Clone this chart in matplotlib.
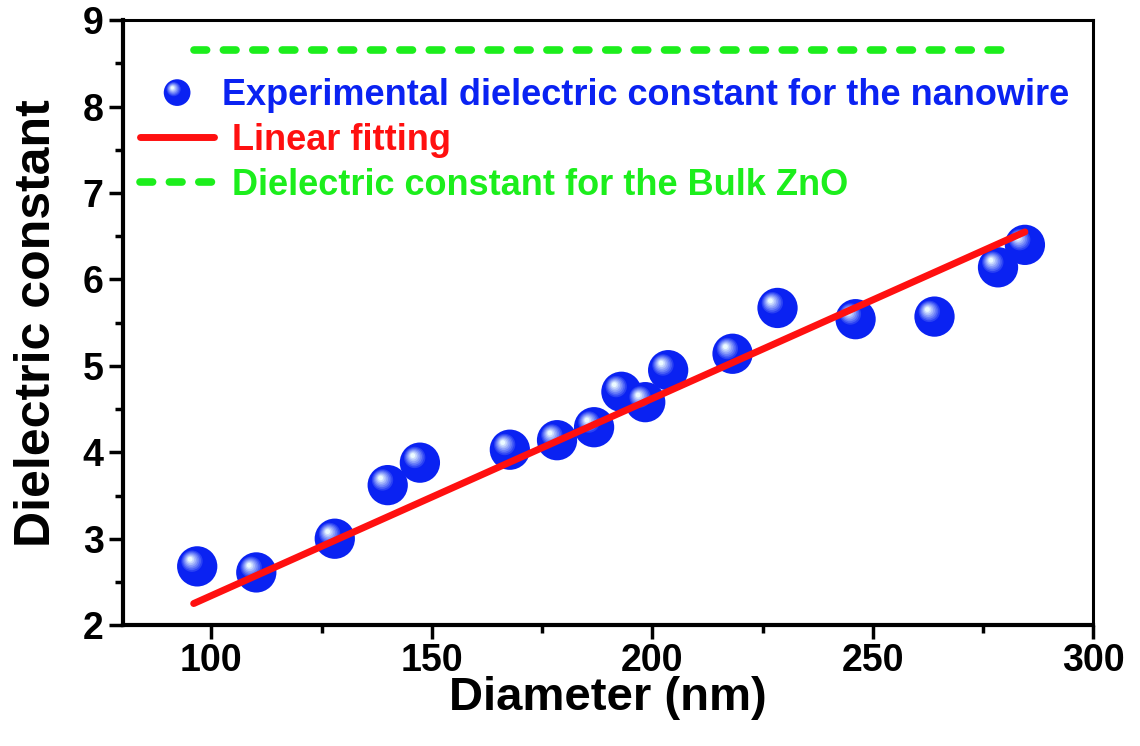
import numpy as np
import matplotlib
matplotlib.use("Agg")
import matplotlib.pyplot as plt
from matplotlib.legend_handler import HandlerBase
from matplotlib.lines import Line2D
from matplotlib.patches import Circle
from matplotlib.transforms import offset_copy
from matplotlib.colors import to_rgb

plt.rcParams['font.family'] = ['Liberation Sans', 'DejaVu Sans']
plt.rcParams['font.weight'] = 'bold'

# measured dielectric constant vs nanowire diameter
diameter = [96.8, 110.2, 128.0, 140.0, 147.3, 167.7, 178.4, 186.8, 193.0,
            198.4, 203.6, 218.2, 228.4, 246.1, 264.0, 278.4, 284.5]
eps_wire = [2.68, 2.61, 3.00, 3.62, 3.88, 4.03, 4.14, 4.29, 4.70,
            4.58, 4.95, 5.14, 5.67, 5.54, 5.57, 6.14, 6.40]

# linear fit end points
fit_x = [96.0, 284.5]
fit_y = [2.25, 6.55]

# bulk ZnO reference
bulk_x = [96.0, 282.0]
bulk_y = [8.66, 8.66]

BLUE = '#0a22f2'
RED = '#ff1010'
GREEN = '#1cee1c'
DASH = (1.65, 2.2)


def shade_layers(n=8):
    """colours and radius fractions for a shaded ball"""
    base = np.array(to_rgb(BLUE))
    light = np.array([0.92, 0.98, 1.0])
    out = []
    for i in range(n):
        t = i / (n - 1)
        frac = 0.6 * (1 - t) + 0.12 * t
        col = base * (1 - t) + light * t
        out.append((frac, tuple(col)))
    return out


def draw_spheres(ax, x, y, size_pt):
    fig = ax.figure
    ax.scatter(x, y, s=size_pt ** 2, color=BLUE, edgecolors='none', zorder=3)
    r = size_pt / 2
    for frac, col in shade_layers():
        d = 0.38 * r * (1 - frac * 0.6)
        tr = offset_copy(ax.transData, fig=fig, x=-d, y=d, units='points')
        ax.scatter(x, y, s=(2 * r * frac) ** 2, color=col, edgecolors='none',
                   transform=tr, zorder=3)


class SphereHandler(HandlerBase):
    def create_artists(self, legend, orig_handle, xdescent, ydescent,
                       width, height, fontsize, trans):
        cx = width / 2 - xdescent
        cy = height / 2 - ydescent
        r = 0.37 * fontsize
        arts = [Circle((cx, cy), r, color=BLUE, lw=0, transform=trans)]
        for frac, col in shade_layers():
            d = 0.38 * r * (1 - frac * 0.6)
            arts.append(Circle((cx - d, cy + d), r * frac, color=col, lw=0,
                               transform=trans))
        return arts


fig = plt.figure(figsize=(11.4, 7.46), dpi=100)
ax = fig.add_axes([0.108, 0.162, 0.851, 0.811])

ax.plot(bulk_x, bulk_y, color=GREEN, lw=5.5, dashes=DASH,
        dash_capstyle='round', zorder=2)
ax.plot(fit_x, fit_y, color=RED, lw=5, solid_capstyle='round', zorder=4)
draw_spheres(ax, diameter, eps_wire, 29)

ax.set_xlim(80, 300)
ax.set_ylim(2, 9)
ax.set_xticks([100, 150, 200, 250, 300])
ax.set_xticks([125, 175, 225, 275], minor=True)
ax.set_yticks(range(2, 10))
ax.set_yticks(np.arange(2.5, 9, 1.0), minor=True)
ax.tick_params(which='major', direction='out', length=10, width=2.5,
               labelsize=27, pad=4)
ax.tick_params(axis='x', which='major', pad=3)
ax.tick_params(which='minor', direction='out', length=6, width=2.5)
for side in ['left', 'bottom']:
    ax.spines[side].set_linewidth(3)
for side in ['top', 'right']:
    ax.spines[side].set_linewidth(2.2)

ax.set_xlabel('Diameter (nm)', fontsize=34, fontweight='bold', labelpad=-2)
ax.set_ylabel('Dielectric constant', fontsize=36, fontweight='bold', labelpad=16)

legend_kw = dict(loc='upper left', frameon=False, handlelength=2.05,
                 borderpad=0, borderaxespad=0,
                 prop={'weight': 'bold', 'size': 26})

# sphere entry sits closer to its handle than the line entries
leg1 = ax.legend([object()], ['Experimental dielectric constant for the nanowire'],
                 handler_map={object: SphereHandler()},
                 bbox_to_anchor=(0.0175, 0.904), handletextpad=0.22,
                 labelcolor=[BLUE], **legend_kw)
ax.add_artist(leg1)

line_handles = [Line2D([], [], color=RED, lw=5, solid_capstyle='round'),
                Line2D([], [], color=GREEN, lw=5.5, dashes=DASH,
                       dash_capstyle='round')]
ax.legend(line_handles, ['Linear fitting', 'Dielectric constant for the Bulk ZnO'],
          bbox_to_anchor=(0.0175, 0.830), handletextpad=0.5,
          labelspacing=0.28, labelcolor=[RED, GREEN], **legend_kw)

fig.savefig('out.png', dpi=100)
